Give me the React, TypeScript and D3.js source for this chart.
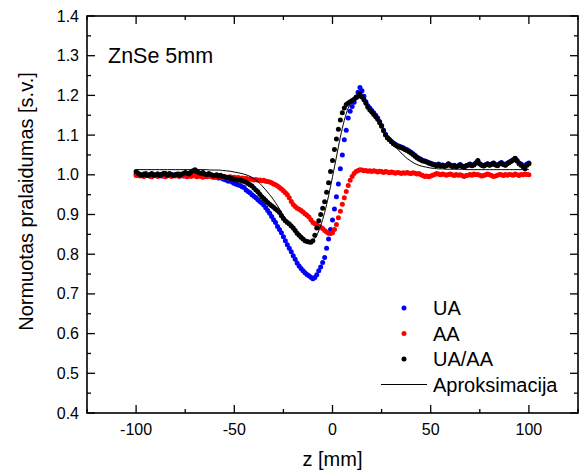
import React from "react";
import * as d3 from "d3";

// z grid of the measurement [mm]
const zValues: number[] = d3.range(-100, 101, 1);

// UA (blue)
const uaValues: number[] = [
  1.002, 0.999, 1.001, 0.998, 1.000, 1.003, 0.999, 0.997, 1.001, 1.000,
  0.998, 1.002, 1.000, 0.997, 0.999, 1.003, 1.001, 0.998, 1.000, 0.999,
  1.001, 0.998, 1.002, 1.000, 0.997, 1.001, 1.003, 1.000, 1.004, 1.006,
  1.007, 1.003, 1.001, 0.999, 1.002, 0.998, 0.996, 0.999, 0.997, 0.995,
  0.994, 0.996, 0.992, 0.993, 0.990, 0.988, 0.986, 0.984, 0.985, 0.981,
  0.978, 0.976, 0.974, 0.973, 0.970, 0.968, 0.962, 0.958, 0.955, 0.950,
  0.946, 0.942, 0.937, 0.933, 0.929, 0.924, 0.917, 0.910, 0.903, 0.895,
  0.887, 0.880, 0.870, 0.862, 0.854, 0.844, 0.834, 0.824, 0.815, 0.806,
  0.796, 0.787, 0.778, 0.770, 0.764, 0.758, 0.753, 0.749, 0.746, 0.742,
  0.738, 0.741, 0.748, 0.758, 0.768, 0.779, 0.792, 0.815, 0.838, 0.862,
  0.886, 0.914, 0.945, 0.977, 1.015, 1.050, 1.088, 1.112, 1.143, 1.160,
  1.172, 1.183, 1.196, 1.208, 1.220, 1.212, 1.198, 1.184, 1.174, 1.168,
  1.162, 1.156, 1.150, 1.143, 1.134, 1.124, 1.112, 1.102, 1.094, 1.089,
  1.084, 1.080, 1.077, 1.074, 1.072, 1.070, 1.068, 1.065, 1.063, 1.060,
  1.057, 1.053, 1.049, 1.045, 1.042, 1.039, 1.036, 1.035, 1.033, 1.031,
  1.029, 1.027, 1.026, 1.024, 1.027, 1.023, 1.025, 1.022, 1.024, 1.028,
  1.025, 1.022, 1.024, 1.021, 1.023, 1.026, 1.022, 1.020, 1.023, 1.025,
  1.027, 1.024, 1.026, 1.030, 1.034, 1.028, 1.025, 1.023, 1.026, 1.028,
  1.025, 1.027, 1.030, 1.026, 1.024, 1.028, 1.031, 1.027, 1.025, 1.029,
  1.032, 1.035, 1.038, 1.041, 1.036, 1.030, 1.027, 1.024, 1.022, 1.027,
  1.030,
];

// AA (red)
const aaValues: number[] = [
  0.998, 1.000, 0.997, 0.999, 0.996, 0.998, 1.000, 0.997, 0.995, 0.998,
  0.999, 0.996, 0.998, 1.000, 0.997, 0.995, 0.998, 0.999, 0.996, 0.998,
  0.997, 0.999, 0.996, 0.998, 1.000, 0.997, 0.995, 0.998, 0.996, 0.999,
  0.997, 0.995, 0.998, 0.996, 0.994, 0.997, 0.995, 0.998, 0.996, 0.994,
  0.996, 0.994, 0.997, 0.995, 0.993, 0.996, 0.994, 0.992, 0.995, 0.993,
  0.994, 0.992, 0.993, 0.991, 0.992, 0.990, 0.991, 0.989, 0.990, 0.988,
  0.987, 0.988, 0.986, 0.987, 0.985, 0.986, 0.984, 0.983, 0.982, 0.980,
  0.977, 0.975, 0.972, 0.968, 0.964, 0.960, 0.955, 0.950, 0.942, 0.933,
  0.925, 0.920, 0.916, 0.913, 0.910, 0.906, 0.902, 0.898, 0.894, 0.887,
  0.880, 0.877, 0.874, 0.871, 0.868, 0.865, 0.860, 0.856, 0.853, 0.852,
  0.854, 0.862, 0.875, 0.892, 0.908, 0.926, 0.942, 0.958, 0.973, 0.986,
  0.996, 1.003, 1.008, 1.011, 1.013, 1.012, 1.010, 1.011, 1.009, 1.010,
  1.008, 1.010, 1.009, 1.007, 1.009, 1.008, 1.006, 1.008, 1.007, 1.005,
  1.007, 1.006, 1.004, 1.006, 1.005, 1.003, 1.005, 1.004, 1.006, 1.004,
  1.003, 1.005, 1.004, 1.002, 1.003, 1.000, 0.998, 0.996, 0.997, 0.995,
  0.997, 0.999, 1.001, 1.003, 1.002, 1.000, 1.002, 1.001, 0.999, 1.001,
  1.002, 1.000, 0.998, 1.001, 0.999, 1.000, 0.998, 0.996, 0.998, 0.999,
  1.001, 0.999, 1.002, 1.000, 1.001, 0.999, 0.997, 0.998, 1.000, 1.002,
  1.000, 0.998, 0.996, 0.997, 0.999, 1.001, 1.000, 0.998, 1.001, 0.999,
  1.001, 1.000, 0.999, 1.002, 1.000, 0.998, 1.001, 1.000, 1.002, 1.001,
  1.000,
];

// UA/AA (black)
const ratioValues: number[] = [
  1.008, 1.004, 1.001, 0.999, 1.002, 1.000, 0.998, 1.001, 1.003, 0.999,
  1.000, 1.002, 0.998, 1.001, 1.004, 1.002, 0.999, 1.003, 1.001, 0.998,
  1.000, 1.002, 0.999, 1.001, 1.003, 1.006, 1.004, 1.002, 1.007, 1.010,
  1.013, 1.009, 1.005, 1.003, 1.006, 1.002, 1.000, 1.003, 1.001, 0.999,
  0.998, 1.000, 0.997, 0.999, 0.996, 0.995, 0.993, 0.994, 0.991, 0.990,
  0.989, 0.988, 0.986, 0.987, 0.985, 0.983, 0.981, 0.978, 0.975, 0.972,
  0.967, 0.962, 0.957, 0.951, 0.945, 0.940, 0.935, 0.930, 0.926, 0.922,
  0.918, 0.914, 0.910, 0.905, 0.897, 0.890, 0.884, 0.880, 0.876, 0.871,
  0.866, 0.860, 0.853, 0.848, 0.843, 0.838, 0.834, 0.832, 0.831, 0.830,
  0.834, 0.848, 0.866, 0.884, 0.900, 0.916, 0.932, 0.956, 0.980, 1.008,
  1.036, 1.064, 1.090, 1.115, 1.138, 1.156, 1.168, 1.177, 1.181, 1.184,
  1.187, 1.190, 1.194, 1.198, 1.204, 1.196, 1.189, 1.180, 1.170, 1.163,
  1.158, 1.152, 1.146, 1.140, 1.131, 1.122, 1.111, 1.100, 1.093, 1.088,
  1.083, 1.078, 1.075, 1.072, 1.070, 1.068, 1.066, 1.063, 1.061, 1.058,
  1.055, 1.051, 1.047, 1.043, 1.040, 1.037, 1.035, 1.034, 1.032, 1.030,
  1.028, 1.026, 1.025, 1.023, 1.026, 1.022, 1.024, 1.021, 1.023, 1.027,
  1.024, 1.021, 1.023, 1.020, 1.022, 1.025, 1.021, 1.019, 1.022, 1.024,
  1.026, 1.023, 1.025, 1.030, 1.036, 1.027, 1.024, 1.022, 1.025, 1.027,
  1.024, 1.026, 1.029, 1.025, 1.023, 1.027, 1.030, 1.026, 1.024, 1.028,
  1.031, 1.034, 1.037, 1.042, 1.035, 1.028, 1.024, 1.020, 1.015, 1.024,
  1.028,
];

// Aproksimacija (fit), z step 2 mm
const fitZ: number[] = d3.range(-100, 101, 2);
const fitValues: number[] = [
  1.013, 1.013, 1.013, 1.013, 1.013, 1.013, 1.013, 1.013, 1.013, 1.013,
  1.013, 1.013, 1.013, 1.013, 1.013, 1.013, 1.013, 1.013, 1.013, 1.012,
  1.012, 1.012, 1.011, 1.010, 1.009, 1.007, 1.005, 1.003, 1.000, 0.996,
  0.990, 0.983, 0.973, 0.962, 0.950, 0.937, 0.922, 0.906, 0.890, 0.874,
  0.860, 0.848, 0.838, 0.831, 0.829, 0.834, 0.848, 0.872, 0.905, 0.947,
  0.995, 1.045, 1.095, 1.137, 1.168, 1.186, 1.195, 1.195, 1.188, 1.173,
  1.156, 1.142, 1.128, 1.112, 1.096, 1.083, 1.071, 1.060, 1.050, 1.041,
  1.034, 1.028, 1.024, 1.021, 1.019, 1.017, 1.016, 1.015, 1.015, 1.014,
  1.014, 1.014, 1.014, 1.014, 1.013, 1.013, 1.013, 1.013, 1.013, 1.013,
  1.013, 1.013, 1.013, 1.013, 1.013, 1.013, 1.013, 1.013, 1.013, 1.013,
  1.013,
];

const xMajor: number[] = [-100, -50, 0, 50, 100];
const xMinor: number[] = [-125, -75, -25, 25, 75, 125];
const yMajor: number[] = [0.4, 0.5, 0.6, 0.7, 0.8, 0.9, 1.0, 1.1, 1.2, 1.3, 1.4];
const yMinor: number[] = [0.45, 0.55, 0.65, 0.75, 0.85, 0.95, 1.05, 1.15, 1.25, 1.35];

const legendItems = [
  { label: "UA", color: "#0000ff", kind: "dot" },
  { label: "AA", color: "#ff0000", kind: "dot" },
  { label: "UA/AA", color: "#000000", kind: "dot" },
  { label: "Aproksimacija", color: "#000000", kind: "line" },
];

const FONT = "'Liberation Sans', Arial, Helvetica, sans-serif";

export default function App() {
  const W = 583, H = 474;
  const L = 87, R = 578, T = 16, B = 413;
  const x = d3.scaleLinear().domain([-125, 125]).range([L, R]);
  const y = d3.scaleLinear().domain([0.4, 1.4]).range([B, T]);
  const majorLen = 8, minorLen = 4;

  const fitLine = d3
    .line<number>()
    .x((_, i) => x(fitZ[i]))
    .y((d) => y(d))
    .curve(d3.curveMonotoneX)(fitValues) as string;

  const series = [
    { vals: uaValues, color: "#0000ff" },
    { vals: aaValues, color: "#ff0000" },
    { vals: ratioValues, color: "#000000" },
  ];

  const r = 2.5;

  return (
    <svg
      width={W}
      height={H}
      style={{ position: "absolute", left: 0, top: 0, background: "#fff" }}
      fontFamily={FONT}
    >
      <rect x={0} y={0} width={W} height={H} fill="#fff" />
      <defs>
        <clipPath id="plotClip">
          <rect x={L} y={T} width={R - L} height={B - T} />
        </clipPath>
      </defs>

      <g clipPath="url(#plotClip)">
        {series.map((s, si) => (
          <g key={si} fill={s.color}>
            {s.vals.map((v, i) => (
              <circle key={i} cx={x(zValues[i])} cy={y(v)} r={r} />
            ))}
          </g>
        ))}
        <path d={fitLine} fill="none" stroke="#000" strokeWidth={1} />
      </g>

      {/* ticks */}
      <g stroke="#000" strokeWidth={1.3}>
        {xMajor.map((t) => (
          <g key={"xM" + t}>
            <line x1={x(t)} x2={x(t)} y1={B} y2={B - majorLen} />
            <line x1={x(t)} x2={x(t)} y1={T} y2={T + majorLen} />
          </g>
        ))}
        {xMinor.map((t) => (
          <g key={"xm" + t}>
            <line x1={x(t)} x2={x(t)} y1={B} y2={B - minorLen} />
            <line x1={x(t)} x2={x(t)} y1={T} y2={T + minorLen} />
          </g>
        ))}
        {yMajor.map((t) => (
          <g key={"yM" + t}>
            <line x1={L} x2={L + majorLen} y1={y(t)} y2={y(t)} />
            <line x1={R} x2={R - majorLen} y1={y(t)} y2={y(t)} />
          </g>
        ))}
        {yMinor.map((t) => (
          <g key={"ym" + t}>
            <line x1={L} x2={L + minorLen} y1={y(t)} y2={y(t)} />
            <line x1={R} x2={R - minorLen} y1={y(t)} y2={y(t)} />
          </g>
        ))}
      </g>

      <rect x={L} y={T} width={R - L} height={B - T} fill="none" stroke="#000" strokeWidth={1.6} />

      {/* tick labels */}
      <g fontSize={16} fill="#000">
        {xMajor.map((t) => (
          <text key={"xl" + t} x={x(t)} y={435} textAnchor="middle">
            {t === 0 ? "0" : String(t)}
          </text>
        ))}
        {yMajor.map((t) => (
          <text key={"yl" + t} x={79} y={y(t)} textAnchor="end" dominantBaseline="central">
            {t.toFixed(1)}
          </text>
        ))}
      </g>

      {/* axis titles */}
      <text x={x(0)} y={466} textAnchor="middle" fontSize={20} fill="#000">
        z [mm]
      </text>
      <text
        transform={`translate(33, ${(T + B) / 2 - 13}) rotate(-90)`}
        textAnchor="middle"
        fontSize={20}
        fill="#000"
      >
        Normuotas pralaidumas [s.v.]
      </text>

      <text x={108} y={63} fontSize={21.5} fill="#000">
        ZnSe 5mm
      </text>

      {/* legend */}
      <g fontSize={20} fill="#000">
        {legendItems.map((it, i) => {
          const cy = 308 + i * 25.5;
          return (
            <g key={it.label}>
              {it.kind === "dot" ? (
                <circle cx={404} cy={cy} r={2.5} fill={it.color} />
              ) : (
                <line x1={381} x2={427} y1={cy} y2={cy} stroke={it.color} strokeWidth={1} />
              )}
              <text x={433} y={cy} dominantBaseline="central">
                {it.label}
              </text>
            </g>
          );
        })}
      </g>
    </svg>
  );
}
